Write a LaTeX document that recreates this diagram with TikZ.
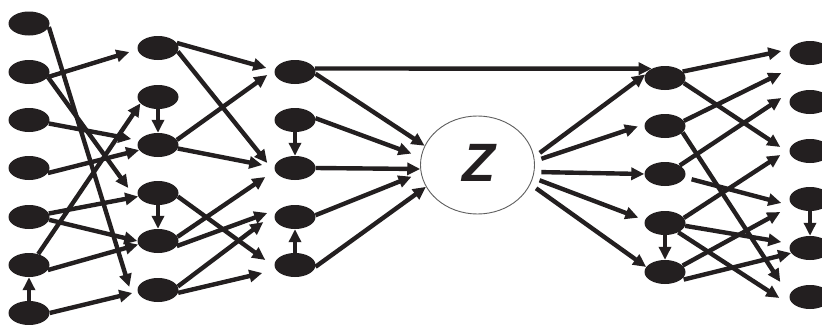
\documentclass[tikz,border=0pt]{standalone}
\usepackage{fontspec}
\newfontfamily\zfont{Liberation Sans}
\usetikzlibrary{arrows.meta,shapes.geometric}
\definecolor{ink}{RGB}{35,31,32}
\definecolor{rim}{RGB}{95,95,95}
\begin{document}
\begin{tikzpicture}[x=1pt,y=-1pt,
  blob/.style={ellipse,fill=ink,draw=none,minimum width=41pt,minimum height=24pt,inner sep=0pt},
  arr/.style={draw=ink,line width=4.4pt,-{Triangle[length=13pt,width=12pt]}}]
\useasboundingbox (0,0) rectangle (822,324);
\clip (0,0) rectangle (822,324);
\fill[white] (0,0) rectangle (822,324);

% first column
\foreach \i/\y in {1/23.5,2/72,3/120,4/168,5/217,6/265,7/313}
  \node[blob] (A\i) at (29,\y) {};
% second column
\foreach \i/\y in {1/48,2/97,3/145,4/193,5/241,6/290}
  \node[blob] (B\i) at (158,\y) {};
% third column
\foreach \i/\y in {1/72,2/120,3/168,4/217,5/265}
  \node[blob] (C\i) at (295,\y) {};
% fourth column
\foreach \i/\y in {1/78,2/126,3/174,4/223,5/272}
  \node[blob] (D\i) at (665,\y) {};
% fifth column
\foreach \i/\y in {1/53,2/102,3/151,4/199,5/248,6/297}
  \node[blob] (E\i) at (810,\y) {};

% central latent node
\node[ellipse,draw=rim,line width=0.9pt,fill=white,minimum width=114pt,minimum height=98pt,inner sep=0pt] (Z) at (477.5,165) {};
\node[inner sep=0pt,text=ink] (Zlabel) at (478.5,163) {\zfont\bfseries\itshape\fontsize{54}{54}\selectfont Z};

% first to second column
\draw[arr] (A1.-10) -- ([xshift=-8pt,yshift=3pt]B6.west);
\draw[arr] (A2.-15) -- ([xshift=-8pt,yshift=-4pt]B1.west);
\draw[arr] (A2.-15) -- ([xshift=-9pt,yshift=5pt]B4.west);
\draw[arr] (A3.-10) -- ([xshift=-6pt,yshift=6pt]B3.west);
\draw[arr] (A4.-15) -- (B3.195);
\draw[arr] (A5.10) -- (B4.190);
\draw[arr] (A5.-8) -- (B5.west);
\draw[arr] (A6.50) -- (B2.200);
\draw[arr] (A6.-15) -- (B5.190);
\draw[arr] (A7.north) -- (A6.south);
\draw[arr] (A7.0) -- ([xshift=-5pt,yshift=-3pt]B6.west);
\draw[arr] (B2.south) -- (B3.north);
\draw[arr] (B4.south) -- (B5.north);

% second to third column
\draw[arr] (B1.15) -- ([xshift=-8pt,yshift=4pt]C1.west);
\draw[arr] (B1.-10) -- ([xshift=-7pt,yshift=5pt]C3.west);
\draw[arr] (B3.15) -- ([xshift=-7pt,yshift=-3pt]C1.west);
\draw[arr] (B3.-10) -- ([xshift=-12pt,yshift=3pt]C3.west);
\draw[arr] (B4.-10) -- ([xshift=-9pt,yshift=5pt]C5.west);
\draw[arr] (B5.12) -- ([xshift=-9pt,yshift=-9pt]C3.west);
\draw[arr] (B5.-15) -- ([xshift=-7pt,yshift=4pt]C4.west);
\draw[arr] (B6.10) -- ([xshift=-11pt,yshift=-5pt]C4.west);
\draw[arr] (B6.-8) -- ([xshift=-12pt,yshift=-8pt]C5.west);
\draw[arr] (C2.south) -- (C3.north);
\draw[arr] (C5.north) -- (C4.south);

% into Z
\draw[arr] (C1.-5) -- (Z.160);
\draw[arr,shorten >=10pt] (C2.5) -- (Z.172);
\draw[arr] (C3.east) -- (Z.184);
\draw[arr,shorten >=10pt] (C4.5) -- (Z.188);
\draw[arr] (C5.-5) -- (Z.203);
\draw[arr] (C1.10) -- (D1.145);

% out of Z
\draw[arr,shorten <=7pt] (Z.8) -- (D1.170);
\draw[arr,shorten <=7pt,shorten >=7pt] (Z.4) -- (D2.175);
\draw[arr,shorten <=7pt] (Z.-7) -- (D3.west);
\draw[arr,shorten <=7pt,shorten >=7pt] (Z.-13) -- (D4.172);
\draw[arr,shorten <=7pt] (Z.-20) -- (D5.165);

% fourth to fifth column
\draw[arr] (D1.20) -- ([xshift=-8pt,yshift=2pt]E1.west);
\draw[arr] (D1.-15) -- ([xshift=-9pt,yshift=4pt]E3.west);
\draw[arr] (D2.15) -- ([xshift=-8pt,yshift=-20pt]E1.west);
\draw[arr] (D2.-20) -- ([xshift=-9pt,yshift=15pt]E6.west);
\draw[arr] (D3.30) -- ([xshift=-8pt,yshift=4pt]E2.west);
\draw[arr,shorten <=7pt] (D3.-10) -- ([xshift=-8pt,yshift=-4pt]E4.west);
\draw[arr] (D4.15) -- ([xshift=-9pt,yshift=-4pt]E3.west);
\draw[arr] (D4.-8) -- ([xshift=-8pt,yshift=6pt]E5.west);
\draw[arr] (D4.-35) -- ([xshift=-10pt,yshift=-1pt]E6.west);
\draw[arr] (D4.south) -- (D5.north);
\draw[arr] (D5.20) -- ([xshift=-9pt,yshift=-13pt]E4.west);
\draw[arr,shorten <=4pt] (D5.-30) -- (E5.195);
\draw[arr] (E4.south) -- (E5.north);
\end{tikzpicture}
\end{document}
